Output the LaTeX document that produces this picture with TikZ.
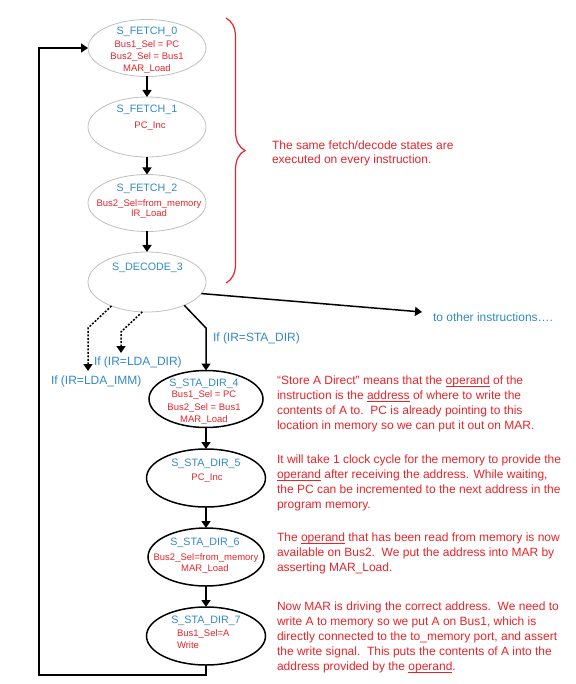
\documentclass[tikz,border=0pt]{standalone}
\usepackage{fontspec}
\setmainfont{Liberation Sans}
\usetikzlibrary{arrows.meta,shapes.geometric,decorations.pathreplacing}
\definecolor{tblue}{RGB}{48,138,198}
\definecolor{tred}{RGB}{230,36,42}
\newcommand\ttlf{\fontsize{10.7}{12}\selectfont}
\newcommand\smlf{\fontsize{9.5}{11}\selectfont}
\newcommand\annf{\fontsize{12}{15}\selectfont}
\newcommand\myul[1]{\setbox0=\hbox{#1}\rlap{\rule[-2pt]{\wd0}{0.7pt}}\box0\relax}
\tikzset{
  every node/.style={inner sep=0pt, outer sep=0pt},
  grayst/.style={ellipse, draw=black!25, line width=0.8pt, minimum width=118pt},
  blkst/.style={ellipse, draw=black, line width=1.5pt},
  ttl/.style={anchor=base, text=tblue, font=\ttlf},
  sml/.style={anchor=base, text=tred, font=\smlf},
  lbl/.style={anchor=base west, text=tblue, font=\annf},
  ann/.style={anchor=north west, text=tred, font=\annf, align=left},
  arr/.style={line width=1.5pt, -{Triangle[width=9pt,length=7pt]}},
  dotarr/.style={arr, dash pattern=on 2pt off 1.5pt},
}
\begin{document}
\begin{tikzpicture}[x=1pt,y=-1pt]
\useasboundingbox (0,0) rectangle (575,684);
% fetch / decode states
\node[grayst, minimum height=57pt] (f0) at (147,48) {};
\node[grayst, minimum height=60pt] (f1) at (147,127) {};
\node[grayst, minimum height=57pt] (f2) at (147,203) {};
\node[grayst, minimum height=60pt] (d3) at (147,282) {};
\node[ttl] (f0t) at (147,34.8) {S\_FETCH\_0};
\node[sml] (f0a) at (147,47.4) {Bus1\_Sel = PC};
\node[sml] (f0b) at (147,59.6) {Bus2\_Sel = Bus1};
\node[sml] (f0c) at (147,71.6) {MAR\_Load};
\node[ttl] (f1t) at (147,112.8) {S\_FETCH\_1};
\node[sml] (f1a) at (150,128.4) {PC\_Inc};
\node[ttl] (f2t) at (147,191.8) {S\_FETCH\_2};
\node[sml] (f2a) at (149,206.4) {Bus2\_Sel=from\_memory};
\node[sml] (f2b) at (149,217) {IR\_Load};
\node[ttl] (d3t) at (147.5,270.8) {S\_DECODE\_3};
% STA states
\node[blkst, minimum width=114pt, minimum height=57pt] (s4) at (206,399) {};
\node[blkst, minimum width=119pt, minimum height=58pt] (s5) at (206,478) {};
\node[blkst, minimum width=116pt, minimum height=58pt] (s6) at (206,557) {};
\node[blkst, minimum width=119pt, minimum height=58pt] (s7) at (206,636) {};
\node[ttl] (s4t) at (204,386) {S\_STA\_DIR\_4};
\node[sml] (s4a) at (204,397.6) {Bus1\_Sel = PC};
\node[sml] (s4b) at (204,410.6) {Bus2\_Sel = Bus1};
\node[sml] (s4c) at (204,422.6) {MAR\_Load};
\node[ttl] (s5t) at (206,466.8) {S\_STA\_DIR\_5};
\node[sml] (s5a) at (207,480.4) {PC\_Inc};
\node[ttl] (s6t) at (205,545.8) {S\_STA\_DIR\_6};
\node[sml] (s6a) at (206,560.4) {Bus2\_Sel=from\_memory};
\node[sml] (s6b) at (205,571.4) {MAR\_Load};
\node[ttl] (s7t) at (206,623.8) {S\_STA\_DIR\_7};
\node[sml, anchor=base west] (s7a) at (177,636.4) {Bus1\_Sel=A};
\node[sml, anchor=base west] (s7b) at (177,648.4) {Write};
% connectors
\draw[arr] (f0.south) -- (f1.north);
\draw[arr] (f1.south) -- (f2.north);
\draw[arr] (f2.south) -- (d3.north);
\draw[arr] (s4.south) -- (s5.north);
\draw[arr] (s5.south) -- (s6.north);
\draw[arr] (s6.south) -- (s7.north);
\coordinate (loopc) at (39,675);
\draw[arr] (s7.south) |- (loopc) |- (f0.west);
% branches from decode
\coordinate (otherend) at (422,312);
\draw[arr] (d3.-12) -- (otherend);
\node[lbl] (othertxt) at (433,321.3) {to other instructions\dots.};
\coordinate (ksta) at (206,328);
\draw[arr] (d3.-32) -- (ksta) -- (s4.north);
\node[lbl] (stal) at (213,341.3) {If (IR=STA\_DIR)};
\coordinate (kld) at (121,332);
\coordinate (eld) at (121,353);
\draw[dotarr] (d3.-99) -- (kld) -- (eld);
\node[lbl] (ldl) at (94,365.3) {If (IR=LDA\_DIR)};
\coordinate (kli) at (88,328);
\coordinate (eli) at (88,371);
\draw[dotarr] (d3.-146) -- (kli) -- (eli);
\node[lbl] (lil) at (51,384.3) {If (IR=LDA\_IMM)};
% brace and annotations
\draw[tred, line width=1.2pt, decorate, decoration={brace, amplitude=19pt}] (226,18) -- (226,283);
\node[ann, font=\fontsize{12}{14.2}\selectfont] (fetchnote) at (272,139.5) {\strut The same fetch/decode states are\\executed on every instruction.};
\node[ann] (n4) at (277,373.8) {\strut “Store A Direct” means that the \myul{operand} of the\\instruction is the \myul{address} of where to write the\\contents of A to.\ \ PC is already pointing to this\\location in memory so we can put it out on MAR.};
\node[ann] (n5) at (277,452.8) {\strut It will take 1 clock cycle for the memory to provide the\\\myul{operand} after receiving the address. While waiting,\\the PC can be incremented to the next address in the\\program memory.};
\node[ann] (n6) at (277,530.8) {\strut The \myul{operand} that has been read from memory is now\\available on Bus2.\ \ We put the address into MAR by\\asserting MAR\_Load.};
\node[ann] (n7) at (277,599.8) {\strut Now MAR is driving the correct address.\ \ We need to\\write A to memory so we put A on Bus1, which is\\directly connected to the to\_memory port, and assert\\the write signal.\ \ This puts the contents of A into the\\address provided by the \myul{operand}.};
\end{tikzpicture}
\end{document}
